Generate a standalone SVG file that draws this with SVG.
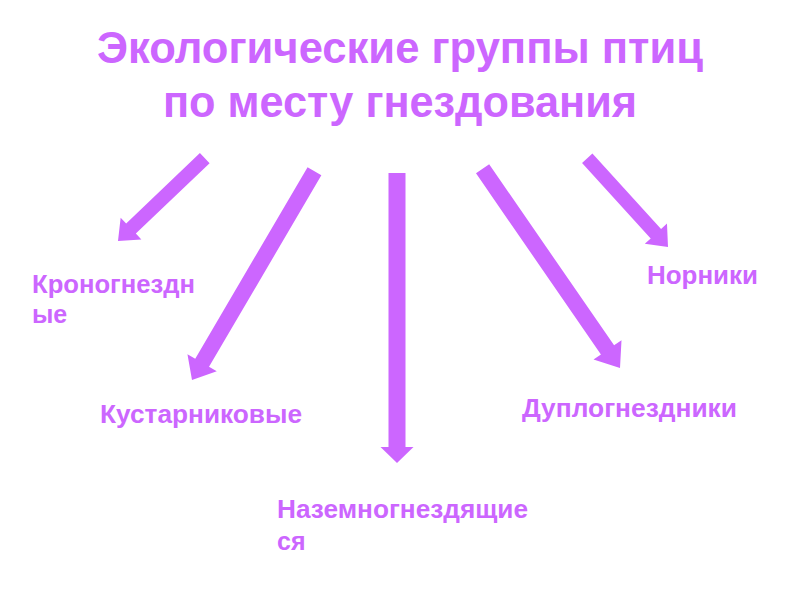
<svg xmlns="http://www.w3.org/2000/svg" width="800" height="600" viewBox="0 0 800 600">
<style>
.t{font-family:"Liberation Sans",Arial,sans-serif;font-weight:bold;fill:#cc66ff}
.title{font-size:44px;text-anchor:middle}
.lbl{font-size:25px}
.arr{fill:#cc66ff}
</style>
<rect width="800" height="600" fill="#ffffff"/>
<g id="title">
<text class="t title" x="400" y="63" textLength="606" lengthAdjust="spacingAndGlyphs">Экологические группы птиц</text>
<text class="t title" x="400" y="117" textLength="474" lengthAdjust="spacingAndGlyphs">по месту гнездования</text>
</g>
<g id="connectors">
<polygon class="arr" transform="translate(118,241) rotate(136.3)" points="0,0 -18,-15 -18,-7 -120,-7 -120,7 -18,7 -18,15"/>
<polygon class="arr" transform="translate(192,380) rotate(120.4)" points="0,0 -20,-17 -20,-8 -242,-8 -242,8 -20,8 -20,17"/>
<polygon class="arr" transform="translate(397,463) rotate(90)" points="0,0 -16,-16.5 -16,-8.5 -290,-8.5 -290,8.5 -16,8.5 -16,16.5"/>
<polygon class="arr" transform="translate(620,368) rotate(55.4)" points="0,0 -22,-17 -22,-8 -242,-8 -242,8 -22,8 -22,17"/>
<polygon class="arr" transform="translate(668,247) rotate(47.7)" points="0,0 -18,-15 -18,-7 -120,-7 -120,7 -18,7 -18,15"/>
</g>
<g id="kronognezdnye">
<text class="t lbl" x="32" y="293" textLength="163" lengthAdjust="spacingAndGlyphs">Кроногнездн</text>
<text class="t lbl" x="32" y="323">ые</text>
</g>
<g id="kustarnikovye">
<text class="t lbl" x="100" y="423" textLength="202" lengthAdjust="spacingAndGlyphs">Кустарниковые</text>
</g>
<g id="nazemnognezdyashchiesya">
<text class="t lbl" x="277" y="518" textLength="251" lengthAdjust="spacingAndGlyphs">Наземногнездящие</text>
<text class="t lbl" x="277" y="550">ся</text>
</g>
<g id="duplognezdniki">
<text class="t lbl" x="522" y="417" textLength="215" lengthAdjust="spacingAndGlyphs">Дуплогнездники</text>
</g>
<g id="norniki">
<text class="t lbl" x="647" y="284" textLength="111" lengthAdjust="spacingAndGlyphs">Норники</text>
</g>
</svg>
